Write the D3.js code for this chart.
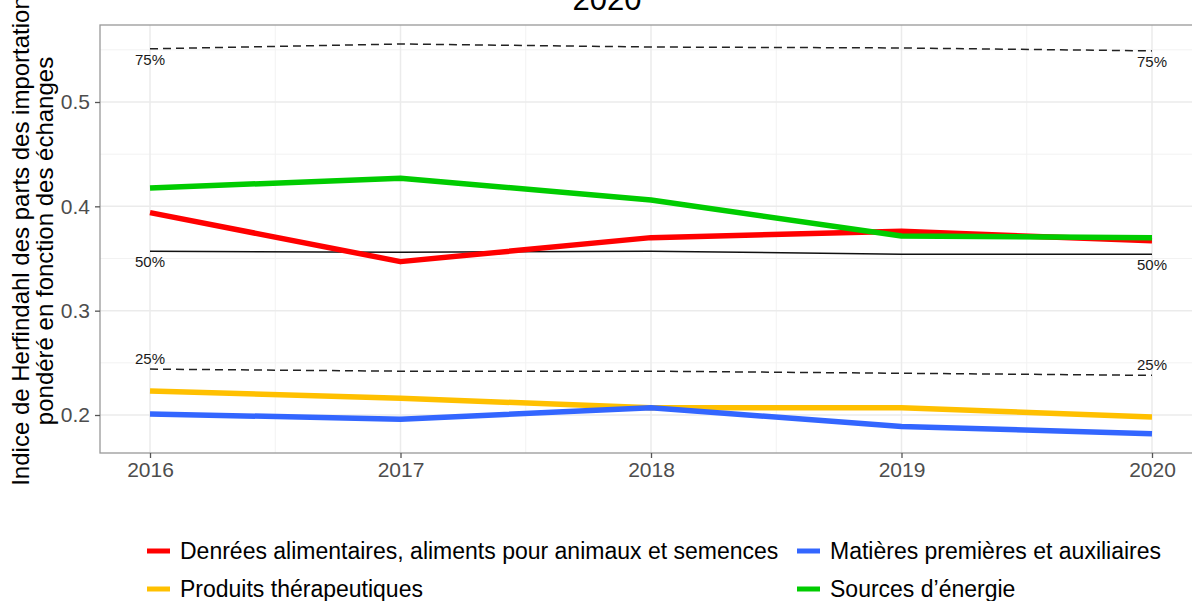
<!DOCTYPE html>
<html>
<head>
<meta charset="utf-8">
<script src="https://cdn.jsdelivr.net/npm/d3@7"></script>
<style>
body { margin: 0; background: #fff; }
svg { font-family: "Liberation Sans", Arial, sans-serif; display: block; }
</style>
</head>
<body>
<svg id="chart" width="1192" height="601"></svg>
<script>
// data
var years = [2016, 2017, 2018, 2019, 2020];
var seriesNames = ["Denrées alimentaires, aliments pour animaux et semences", "Matières premières et auxiliaires", "Produits thérapeutiques", "Sources d’énergie"];
var seriesColors = ["#ff0000", "#3366ff", "#ffc000", "#00cc00"];
var denrees = [0.394, 0.347, 0.370, 0.376, 0.367];
var matieres = [0.201, 0.196, 0.207, 0.189, 0.182];
var produits = [0.223, 0.216, 0.207, 0.207, 0.198];
var energie = [0.4176, 0.427, 0.406, 0.3715, 0.370];
var q75 = [0.551, 0.5556, 0.5527, 0.5518, 0.549];
var q50 = [0.357, 0.356, 0.357, 0.354, 0.354];
var q25 = [0.244, 0.242, 0.242, 0.240, 0.238];
var yTicks = [0.2, 0.3, 0.4, 0.5];
var yMinor = [0.25, 0.35, 0.45, 0.55];
var xMinor = [2016.5, 2017.5, 2018.5, 2019.5];

var svg = d3.select("#chart");

var pLeft = 100, pTop = 25, pBottom = 453, pRight = 1202;
var x = d3.scaleLinear().domain([2016, 2020]).range([150, 1152]);
var y = d3.scaleLinear().domain([0.2, 0.5]).range([415, 102]);

// grid
var grid = svg.append("g");
yMinor.forEach(function(v){
	grid.append("line").attr("x1", pLeft).attr("x2", pRight).attr("y1", y(v)).attr("y2", y(v))
		.attr("stroke", "#f2f2f2").attr("stroke-width", 1);
});
xMinor.forEach(function(v){
	grid.append("line").attr("x1", x(v)).attr("x2", x(v)).attr("y1", pTop).attr("y2", pBottom)
		.attr("stroke", "#f2f2f2").attr("stroke-width", 1);
});
yTicks.forEach(function(v){
	grid.append("line").attr("x1", pLeft).attr("x2", pRight).attr("y1", y(v)).attr("y2", y(v))
		.attr("stroke", "#ebebeb").attr("stroke-width", 1.5);
});
years.forEach(function(v){
	grid.append("line").attr("x1", x(v)).attr("x2", x(v)).attr("y1", pTop).attr("y2", pBottom)
		.attr("stroke", "#ebebeb").attr("stroke-width", 1.5);
});

// panel border
svg.append("rect").attr("x", pLeft).attr("y", pTop).attr("width", pRight - pLeft).attr("height", pBottom - pTop)
	.attr("fill", "none").attr("stroke", "#999").attr("stroke-width", 1.3);

// axes
var yAxis = svg.append("g").attr("transform", "translate(" + pLeft + ",0)")
	.call(d3.axisLeft(y).tickValues(yTicks).tickSize(5).tickPadding(5).tickFormat(d3.format(".1f")));
var xAxis = svg.append("g").attr("transform", "translate(0," + pBottom + ")")
	.call(d3.axisBottom(x).tickValues(years).tickSize(5).tickPadding(4).tickFormat(d3.format("d")));
[yAxis, xAxis].forEach(function(a){
	a.attr("font-size", 21).attr("font-family", "Liberation Sans, Arial, sans-serif");
	a.select(".domain").remove();
	a.selectAll(".tick line").attr("stroke", "#555").attr("stroke-width", 1.3);
	a.selectAll(".tick text").attr("fill", "#4d4d4d");
});

var line = d3.line().x(function(d, i){ return x(years[i]); }).y(function(d){ return y(d); });

// quantile lines
svg.append("path").datum(q75).attr("d", line).attr("fill", "none")
	.attr("stroke", "#222").attr("stroke-width", 1.5).attr("stroke-dasharray", "8,5");
svg.append("path").datum(q50).attr("d", line).attr("fill", "none")
	.attr("stroke", "#111").attr("stroke-width", 1.5);
svg.append("path").datum(q25).attr("d", line).attr("fill", "none")
	.attr("stroke", "#222").attr("stroke-width", 1.5).attr("stroke-dasharray", "8,5");

// quantile labels
var qLabels = [
	{t: "75%", v: q75, dy: 16},
	{t: "50%", v: q50, dy: 16},
	{t: "25%", v: q25, dy: -5}
];
qLabels.forEach(function(q){
	[0, 4].forEach(function(i){
		svg.append("text").attr("x", x(years[i])).attr("y", y(q.v[i]) + q.dy)
			.attr("text-anchor", "middle").attr("font-size", 15).attr("fill", "#1a1a1a")
			.text(q.t);
	});
});

// series
var allSeries = [denrees, matieres, produits, energie];
var drawOrder = [2, 1, 0, 3];
drawOrder.forEach(function(k){
	svg.append("path").datum(allSeries[k]).attr("d", line).attr("fill", "none")
		.attr("stroke", seriesColors[k]).attr("stroke-width", 5.5)
		.attr("stroke-linejoin", "round");
});

// title (cropped at top)
svg.append("text").attr("x", 607).attr("y", 10).attr("text-anchor", "middle")
	.attr("font-size", 31).attr("fill", "#000").text("2020");

// y title
var yt = svg.append("text").attr("transform", "translate(0,241) rotate(-90)")
	.attr("text-anchor", "middle").attr("font-size", 24).attr("fill", "#000");
yt.append("tspan").attr("x", 0).attr("y", 29).text("Indice de Herfindahl des parts des importation");
yt.append("tspan").attr("x", 0).attr("y", 53).text("pondéré en fonction des échanges");

// legend
var legPos = [[147, 551], [797, 551], [147, 589], [797, 589]];
seriesNames.forEach(function(n, i){
	var p = legPos[i];
	svg.append("line").attr("x1", p[0]).attr("x2", p[0] + 23).attr("y1", p[1]).attr("y2", p[1])
		.attr("stroke", seriesColors[i]).attr("stroke-width", 5);
	svg.append("text").attr("x", p[0] + 33).attr("y", p[1] + 8).attr("font-size", 23)
		.attr("fill", "#000").text(n);
});
</script>
</body>
</html>
